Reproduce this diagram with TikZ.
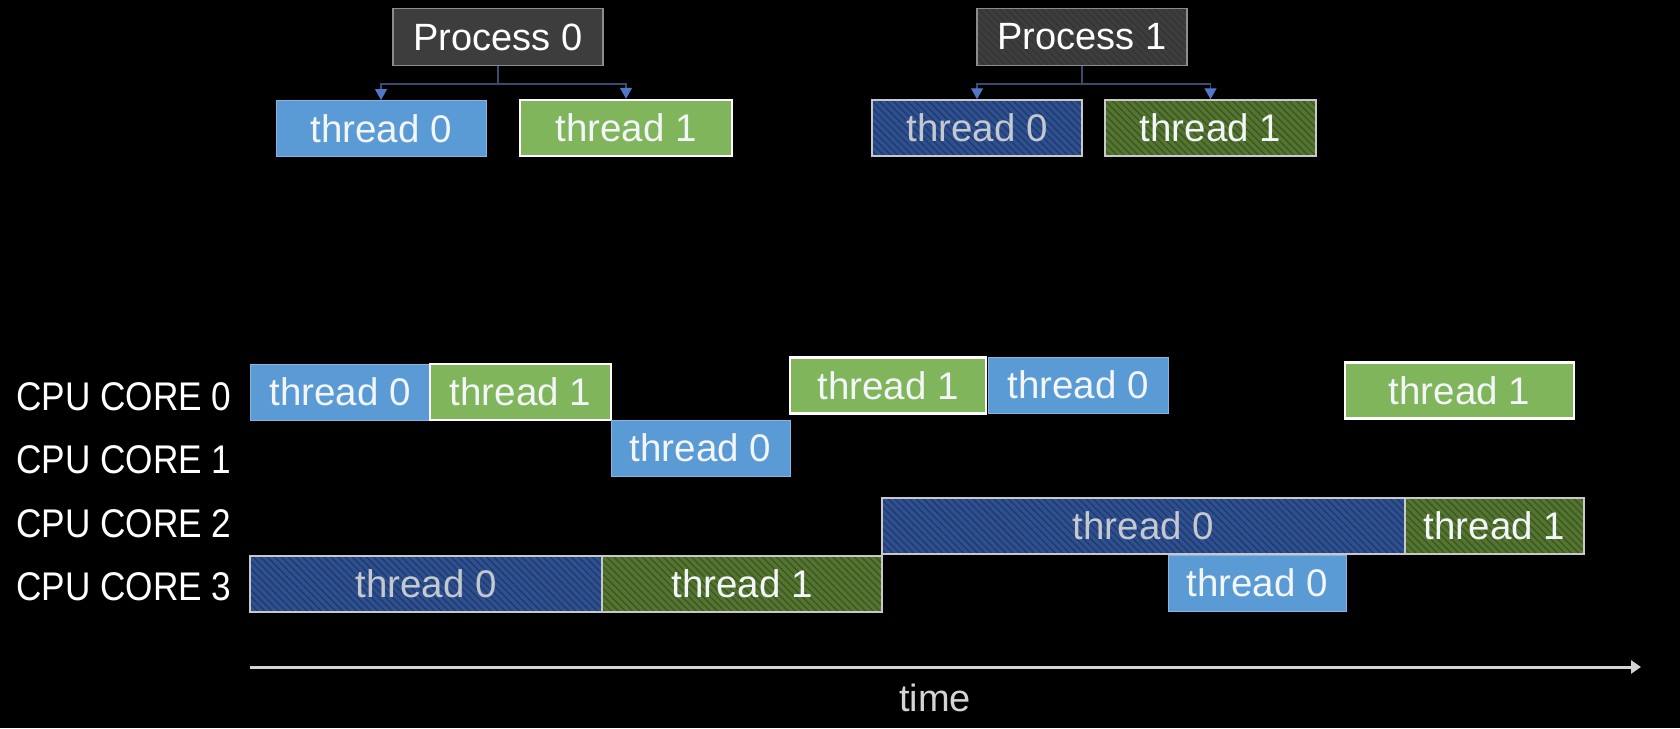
\documentclass[tikz,border=0pt]{standalone}
\usepackage{fontspec}
\setmainfont{Liberation Sans}
\newfontfamily\corefont[FakeStretch=0.88]{Liberation Sans}
\usetikzlibrary{arrows.meta,patterns.meta}

\definecolor{procfill}{HTML}{3D3D3D}
\definecolor{procline}{HTML}{8C8C8C}
\definecolor{blueA}{HTML}{5B9BD5}
\definecolor{blueAline}{HTML}{8CB4DE}
\definecolor{greenA}{HTML}{80B55B}
\definecolor{blueB}{HTML}{2E5090}
\definecolor{blueBline}{HTML}{20396B}
\definecolor{greenB}{HTML}{547530}
\definecolor{greenBline}{HTML}{3C5522}
\definecolor{hatchedge}{HTML}{C8C8C8}
\definecolor{linkcol}{HTML}{3B4A6E}
\definecolor{tipblue}{HTML}{4F78C8}
\definecolor{axiscol}{HTML}{D4D4D4}
\definecolor{textlight}{HTML}{F3F6F8}
\definecolor{textdim}{HTML}{C4C8CF}

\begin{document}
\begin{tikzpicture}[x=1pt,y=-1pt]
\tikzset{proc/.style={draw=procline, line width=1.2pt, fill=procfill, text=white, inner sep=0pt, minimum width=210pt, minimum height=57pt, font=\fontsize{38}{40}\selectfont},
  thr/.style={inner sep=0pt, minimum height=56pt, font=\fontsize{38.5}{40}\selectfont},
  solidblue/.style={thr, fill=blueA, draw=blueAline, line width=1pt, text=textlight},
  solidgreen/.style={thr, fill=greenA, draw=white, line width=2.5pt, text=textlight},
  hatchblue/.style={thr, preaction={fill=blueB}, pattern={Lines[angle=-45,distance=5pt,line width=1.3pt]}, pattern color=blueBline, draw=hatchedge, line width=1.5pt, text=textdim},
  hatchgreen/.style={thr, preaction={fill=greenB}, pattern={Lines[angle=-45,distance=5pt,line width=1.3pt]}, pattern color=greenBline, draw=hatchedge, line width=1.5pt, text=textlight},
  corelabel/.style={anchor=west, inner sep=0pt, text=white, font=\corefont\fontsize{40}{42}\selectfont},
  link/.style={draw=linkcol, line width=1.3pt, -{Triangle[width=12pt,length=11pt,color=tipblue]}}}

    \fill[black] (0,0) rectangle (1680,728);
    \useasboundingbox (0,0) rectangle (1680,728);

    % processes and their threads
    \node[proc] at (498,37) (p_0) {Process 0};
    \node[proc, preaction={fill=procfill}, pattern={Lines[angle=-45,distance=5pt,line width=1pt]}, pattern color=black!80] at (1082,37) (p_1) {Process 1};
    \node[solidblue, minimum width=210pt] at (381,128.5) (a_0) {thread 0};
    \node[solidgreen, minimum width=212pt] at (626,128) (a_1) {thread 1};
    \node[hatchblue, minimum width=210pt] at (977,128) (b_0) {thread 0};
    \node[hatchgreen, minimum width=211pt] at (1210.5,128) (b_1) {thread 1};

    \draw[link] (p_0.south) -- ++(0,18) -| (a_0.north);
    \draw[link] (p_0.south) -- ++(0,18) -| (a_1.north);
    \draw[link] (p_1.south) -- ++(0,18) -| (b_0.north);
    \draw[link] (p_1.south) -- ++(0,18) -| (b_1.north);

    % cores
    \node[corelabel] at (16,397) (core_0) {CPU CORE 0};
    \node[corelabel] at (16,460) (core_1) {CPU CORE 1};
    \node[corelabel] at (16,524) (core_2) {CPU CORE 2};
    \node[corelabel] at (16,587) (core_3) {CPU CORE 3};

    % time slices
    \node[solidblue, minimum width=180pt] at (340,392) (c0_1) {thread 0};
    \node[solidgreen, minimum width=181pt] at (520.5,392) (c0_2) {thread 1};
    \node[solidgreen, minimum width=196pt] at (888,385.5) (c0_3) {thread 1};
    \node[solidblue, minimum width=180pt] at (1078,385) (c0_4) {thread 0};
    \node[solidgreen, minimum width=229pt] at (1459.5,390.5) (c0_5) {thread 1};
    \node[solidblue, minimum width=179pt] at (700.5,448) (c1_1) {thread 0};
    \node[hatchblue, minimum width=523pt] at (1143.5,526) (c2_1) {thread 0};
    \node[hatchgreen, minimum width=179pt] at (1494.5,526) (c2_2) {thread 1};
    \node[hatchblue, minimum width=352pt] at (426,584) (c3_1) {thread 0};
    \node[hatchgreen, minimum width=280pt] at (742,584) (c3_2) {thread 1};
    \node[solidblue, minimum width=178pt] at (1257,583) (c3_3) {thread 0};

    % time axis
    \coordinate (t_start) at (250,667);
    \coordinate (t_end) at (1641,667);
    \draw[axiscol, line width=3pt, -{Triangle[width=13pt,length=10pt]}] (t_start) -- (t_end);
    \node[text=axiscol, inner sep=0pt, font=\fontsize{38}{40}\selectfont] at (935,698) (t_label) {time};
  \end{tikzpicture}
\end{document}
